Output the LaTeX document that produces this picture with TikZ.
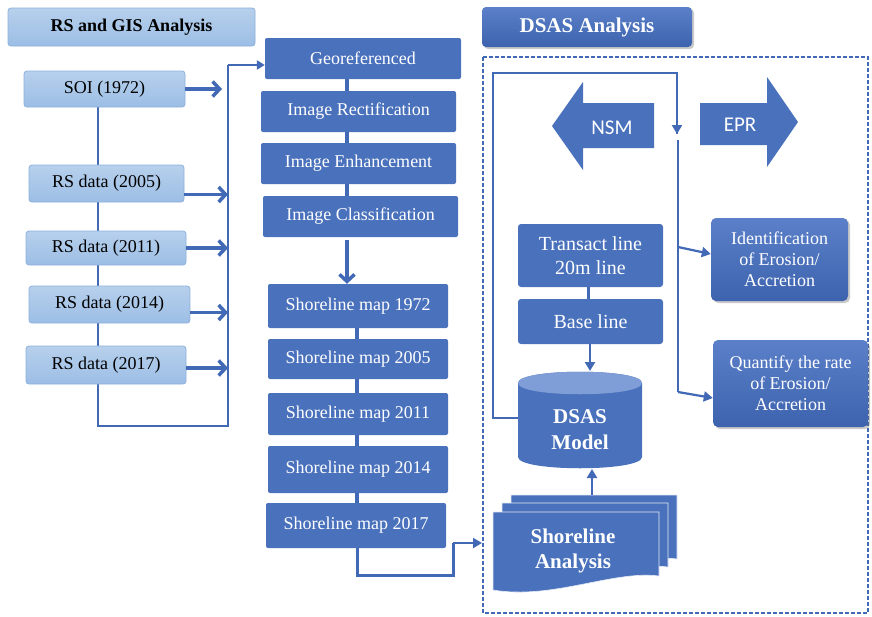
\documentclass[tikz,border=0pt]{standalone}
\usepackage{fontspec}
\setmainfont{Liberation Serif}
\newfontfamily\calibri{Carlito}
\usetikzlibrary{arrows.meta,shadows,backgrounds}
\definecolor{dblue}{HTML}{4A71BC}
\definecolor{dbluetop}{HTML}{5B80C9}
\definecolor{dbluebot}{HTML}{3E63AE}
\definecolor{lbluetop}{HTML}{B7D0EC}
\definecolor{lbluebot}{HTML}{9CBEE5}
\definecolor{lborder}{HTML}{8DB0DC}
\definecolor{lnc}{HTML}{4169B5}
\definecolor{cyltop}{HTML}{7F9DD6}
\tikzset{
  lbox/.style={rounded corners=3pt, draw=lborder, line width=0.8pt,
    top color=lbluetop, bottom color=lbluebot, inner sep=0pt,
    font=\fontsize{18}{20}\selectfont},
  dbox/.style={rounded corners=2pt, fill=dblue, text=white, inner sep=0pt,
    font=\fontsize{18}{20}\selectfont},
  gbox/.style={rounded corners=5pt, top color=dbluetop, bottom color=dbluebot,
    text=white, inner sep=0pt, align=center,
    drop shadow={shadow xshift=2pt, shadow yshift=-2pt, opacity=0.35, fill=black!60},
    font=\fontsize{18}{21}\selectfont},
  conn/.style={draw=lnc, line width=2.6pt},
  stub/.style={draw=lnc, line width=4pt},
  barr/.style={draw=lnc, line width=3.5pt, -{Straight Barb[length=7pt,width=15pt]}},
  tarr/.style={draw=lnc, line width=2.2pt, -{Triangle[length=9pt,width=10pt]}},
  bigarrow/.style={fill=dblue},
  lbl/.style={text=white, inner sep=0pt},
}
\begin{document}
\begin{tikzpicture}[x=1pt,y=-1pt]
\useasboundingbox (0,0) rectangle (872,616);

% ---------- left column ----------
\node[lbox, minimum width=247pt, minimum height=38pt, font=\fontsize{18}{20}\selectfont\bfseries] (rsgis) at (131.5,27) {RS and GIS Analysis};
\node[lbox, minimum width=161pt, minimum height=36pt] (soi) at (104.5,89) {SOI (1972)};
\node[lbox, minimum width=155pt, minimum height=37pt] (rs05) at (106.5,183.5) {RS data (2005)};
\node[lbox, minimum width=160pt, minimum height=34pt] (rs11) at (106,248) {RS data (2011)};
\node[lbox, minimum width=161pt, minimum height=37pt] (rs14) at (109.5,304.5) {RS data (2014)};
\node[lbox, minimum width=160pt, minimum height=38pt] (rs17) at (106,365) {RS data (2017)};

\coordinate (bl) at (98,426);
\coordinate (br) at (228,426);
\coordinate (tr) at (228,65);

% ---------- middle column ----------
\node[dbox, minimum width=196pt, minimum height=41pt] (geo) at (363,58.5) {Georeferenced};
\node[dbox, minimum width=195pt, minimum height=41pt] (rect) at (358.5,111.5) {Image Rectification};
\node[dbox, minimum width=195pt, minimum height=41pt] (enh) at (358.5,163.5) {Image Enhancement};
\node[dbox, minimum width=195pt, minimum height=41pt] (cls) at (360.5,216.5) {Image Classification};

\node[dbox, minimum width=180pt, minimum height=44pt] (sm72) at (358,306) {Shoreline map 1972};
\node[dbox, minimum width=180pt, minimum height=40pt] (sm05) at (358,359) {Shoreline map 2005};
\node[dbox, minimum width=180pt, minimum height=42pt] (sm11) at (358,414) {Shoreline map 2011};
\node[dbox, minimum width=180pt, minimum height=47pt] (sm14) at (358,469.5) {Shoreline map 2014};
\node[dbox, minimum width=180pt, minimum height=45pt] (sm17) at (356,525.5) {Shoreline map 2017};

% ---------- DSAS part ----------
\node[gbox, rounded corners=4pt, minimum width=210pt, minimum height=40pt,
  font=\fontsize{21}{24}\selectfont\bfseries] (dsash) at (587,27) {DSAS Analysis};

\draw[draw=lnc, line width=1.3pt, dash pattern=on 4pt off 2pt] (483,57) rectangle (868,613);

% NSM and EPR arrows
\fill[bigarrow] (552,126) -- (583,82) -- (583,103) -- (654,103) -- (654,148) -- (583,148) -- (583,170) -- cycle;
\node[lbl, font=\calibri\fontsize{21}{24}\selectfont] (nsm) at (612,128) {NSM};
\fill[bigarrow] (700,103) -- (767,103) -- (767,77) -- (798,122) -- (767,167) -- (767,145) -- (700,145) -- cycle;
\node[lbl, font=\calibri\fontsize{21}{24}\selectfont] (epr) at (740,125) {EPR};

\node[dbox, rounded corners=3pt, minimum width=145pt, minimum height=63pt, align=center,
  font=\fontsize{20}{24}\selectfont] (trans) at (590.5,255.5) {Transact line\\20m line};
\node[dbox, rounded corners=3pt, minimum width=145pt, minimum height=45pt,
  font=\fontsize{20}{24}\selectfont] (base) at (590.5,321.5) {Base line};

% DSAS Model cylinder
\fill[dblue] (518,383) -- (518,457) .. controls (518,472) and (642,472) .. (642,457)
  -- (642,383) .. controls (642,368) and (518,368) .. (518,383) -- cycle;
\fill[cyltop] (518,383) .. controls (518,368) and (642,368) .. (642,383)
  .. controls (642,398) and (518,398) .. (518,383) -- cycle;
\node[lbl, align=center, font=\fontsize{21}{26}\selectfont\bfseries] (dsas) at (580,430) {DSAS\\Model};
\coordinate (dsastop) at (590,371);
\coordinate (dsasbot) at (592,469);
\coordinate (dsasleft) at (518,418);

% Shoreline Analysis (multi document)
\foreach \xo/\yo in {511/495, 502/503, 493/512}{
  \fill[dblue, draw=white!85!dblue, line width=0.6pt] (\xo,\yo) -- ({\xo+166},\yo) -- ({\xo+166},{\yo+64})
    .. controls ({\xo+120},{\yo+58}) and ({\xo+60},{\yo+88}) .. (\xo,{\yo+78}) -- cycle;
}
\node[lbl, align=center, font=\fontsize{21}{25}\selectfont\bfseries] (shan) at (573,551) {Shoreline\\Analysis};
\coordinate (shantop) at (592,495);

% Result boxes
\node[gbox, minimum width=137pt, minimum height=83pt] (ident) at (779.5,259.5) {Identification\\of Erosion/\\Accretion};
\node[gbox, minimum width=155pt, minimum height=87pt] (quant) at (790.5,383.5) {Quantify the rate\\of Erosion/\\Accretion};

% ---------- connectors ----------
\begin{scope}[on background layer]
\fill[white] (0,0) rectangle (872,616);
\draw[conn] (soi.south -| bl) -- (bl) -- (br) -- (tr);
\end{scope}
\draw[tarr, -{Triangle[length=8pt,width=9pt]}] (tr) -- (geo.west |- tr);
\draw[barr] (soi.east) -- (222,89);
\draw[barr] ([yshift=-11pt]rs05.east) -- (228,194.5);
\draw[barr] (rs11.east) -- (228,248);
\draw[barr] ([yshift=-8pt]rs14.east) -- (228,312.5);
\draw[barr] ([yshift=-3pt]rs17.east) -- (228,368);

\draw[stub] (347,79) -- (347,91);
\draw[stub] (347,132) -- (347,143);
\draw[stub] (347,184) -- (347,196);
\draw[barr] (347,240) -- (sm72.north -| 347,0);
\draw[stub] (357,328) -- (357,339);
\draw[stub] (357,379) -- (357,393);
\draw[stub] (357,435) -- (357,446);
\draw[stub] (357,493) -- (357,503);

\coordinate (s1) at (357,575);
\coordinate (s2) at (453,575);
\coordinate (s3) at (453,543);
\coordinate (s4) at (482,543);
\draw[conn, line width=3pt] (sm17.south -| s1) -- (s1) -- (s2) -- (s3);
\draw[tarr, line width=2.5pt] (s3) -- (s4);

% DSAS loop
\coordinate (l1) at (493,418);
\coordinate (l2) at (493,73);
\coordinate (l3) at (677,73);
\coordinate (l4) at (677,134);
\coordinate (m1) at (678,140);
\coordinate (m2) at (678,247);
\coordinate (m3) at (678,392);
\draw[conn, line width=2.8pt] (dsasleft) -- (l1) -- (l2) -- (l3) -- (l4);
\draw[draw=lnc, line width=2.2pt, -{Triangle[length=9pt,width=10pt]}] (l3) -- (l4);
\draw[conn] (m1) -- (m3);
\draw[tarr] (m2) -- (ident.west |- 0,254);
\draw[tarr] (m3) -- (quant.west |- 0,398);

\draw[stub, line width=3pt] (trans.south -| 588,0) -- (base.north -| 588,0);
\draw[tarr] (base.south -| 590,0) -- (dsastop);
\draw[tarr] (shantop) -- (dsasbot);
\end{tikzpicture}
\end{document}
